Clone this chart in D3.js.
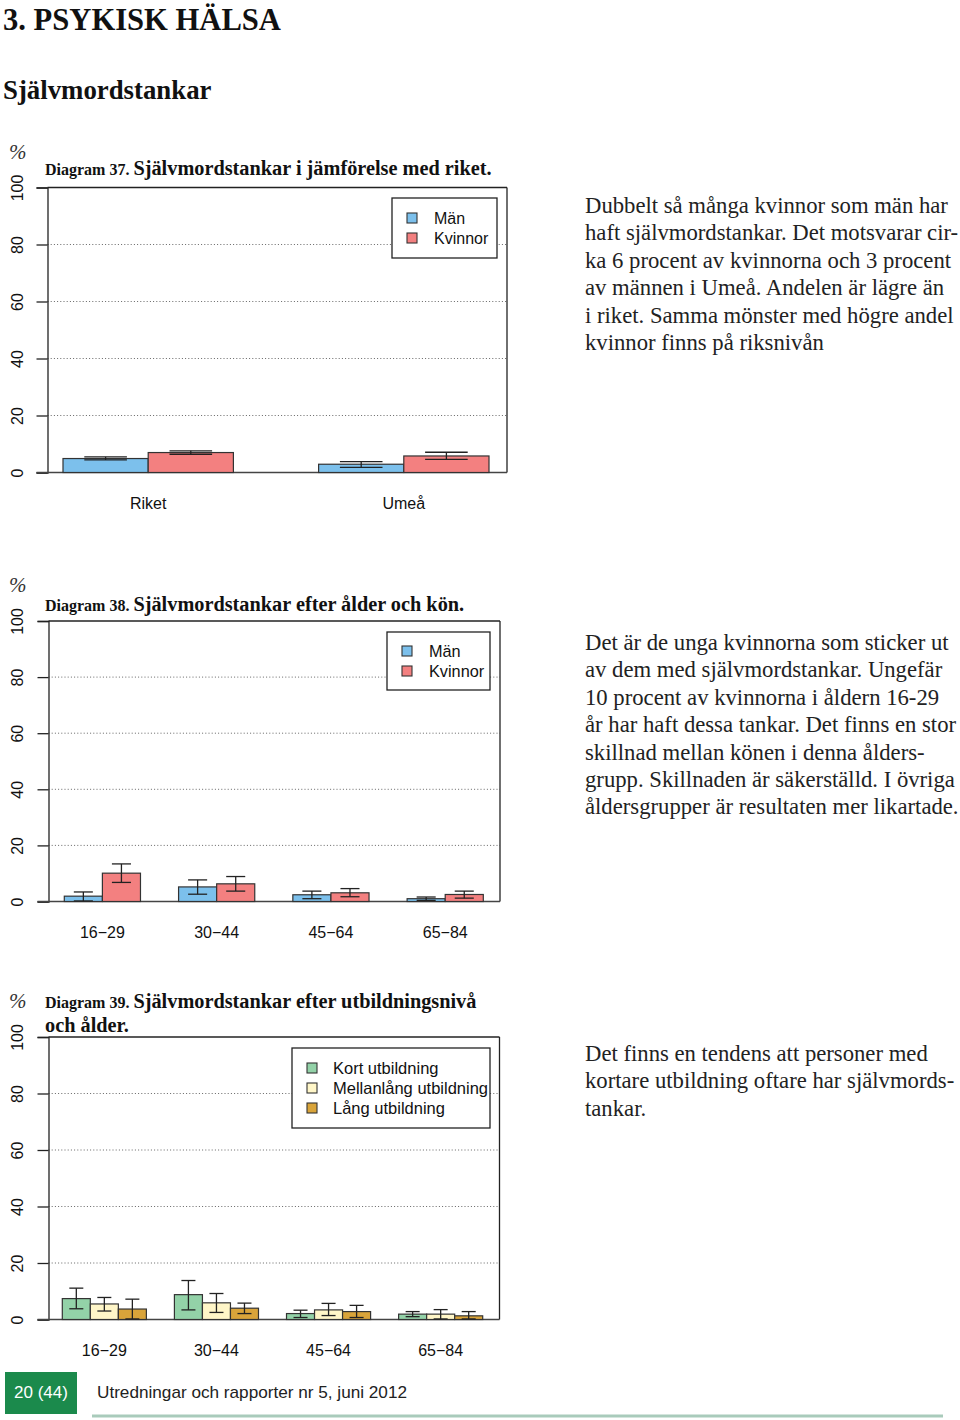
<!DOCTYPE html>
<html><head><meta charset="utf-8">
<script src="https://cdn.jsdelivr.net/npm/d3@7"></script>
<style>
html,body{margin:0;padding:0;background:#fff;}
svg{display:block;}
</style></head>
<body>
<svg id="page" width="960" height="1420"></svg>
<script>
// ---------------- DATA ----------------
const yTicks = [0, 20, 40, 60, 80, 100];

// Diagram 37
const chart1Categories = ["Riket", "Umeå"];
const chart1SeriesNames = ["Män", "Kvinnor"];
const chart1Men = [4.9, 2.9];
const chart1MenLow = [4.4, 1.8];
const chart1MenHigh = [5.5, 3.8];
const chart1Women = [7.0, 5.8];
const chart1WomenLow = [6.4, 4.6];
const chart1WomenHigh = [7.6, 7.1];

// Diagram 38
const chart2Categories = ["16−29", "30−44", "45−64", "65−84"];
const chart2SeriesNames = ["Män", "Kvinnor"];
const chart2Men = [1.9, 5.2, 2.4, 1.0];
const chart2MenLow = [0.2, 2.6, 1.0, 0.4];
const chart2MenHigh = [3.4, 7.7, 3.7, 1.6];
const chart2Women = [10.1, 6.3, 3.1, 2.5];
const chart2WomenLow = [6.8, 3.7, 1.7, 1.2];
const chart2WomenHigh = [13.4, 8.9, 4.6, 3.7];

// Diagram 39
const chart3Categories = ["16−29", "30−44", "45−64", "65−84"];
const chart3SeriesNames = ["Kort utbildning", "Mellanlång utbildning", "Lång utbildning"];
const chart3Kort = [7.4, 8.8, 2.1, 1.9];
const chart3KortLow = [3.8, 3.4, 0.7, 1.0];
const chart3KortHigh = [11.1, 13.8, 3.3, 2.8];
const chart3Mellan = [5.5, 5.9, 3.4, 1.9];
const chart3MellanLow = [3.0, 2.5, 1.4, 0.2];
const chart3MellanHigh = [7.8, 9.2, 5.7, 3.5];
const chart3Lang = [3.7, 4.0, 2.8, 1.3];
const chart3LangLow = [0.2, 2.1, 0.7, 0.2];
const chart3LangHigh = [7.2, 5.8, 5.0, 2.8];

// Texts
const pageHeader = "3. PSYKISK HÄLSA";
const sectionHeader = "Självmordstankar";
const para1 = ["Dubbelt så många kvinnor som män har",
  "haft självmordstankar. Det motsvarar cir-",
  "ka 6 procent av kvinnorna och 3 procent",
  "av männen i Umeå. Andelen är lägre än",
  "i riket. Samma mönster med högre andel",
  "kvinnor finns på riksnivån"];
const para2 = ["Det är de unga kvinnorna som sticker ut",
  "av dem med självmordstankar. Ungefär",
  "10 procent av kvinnorna i åldern 16-29",
  "år har haft dessa tankar. Det finns en stor",
  "skillnad mellan könen i denna ålders-",
  "grupp. Skillnaden är säkerställd. I övriga",
  "åldersgrupper är resultaten mer likartade."];
const para3 = ["Det finns en tendens att personer med",
  "kortare utbildning oftare har självmords-",
  "tankar."];
const footerPage = "20 (44)";
const footerText = "Utredningar och rapporter nr 5, juni 2012";

// ---------------- STYLE ----------------
const SERIF = "'Liberation Serif','Times New Roman',serif";
const SANS = "'Liberation Sans',Arial,Helvetica,sans-serif";
const colMen = "#7cc0ec", colWomen = "#f38080";
const colKort = "#93d2a8", colMellan = "#fff6c8", colLang = "#d9a43a";

const svg = d3.select("#page");

svg.append("text").attr("x", 3).attr("y", 30)
  .style("font-family", SERIF).style("font-weight", "bold").style("font-size", "30.6px")
  .attr("fill", "#111").text(pageHeader);
svg.append("text").attr("x", 3).attr("y", 99)
  .style("font-family", SERIF).style("font-weight", "bold").style("font-size", "26.8px")
  .attr("fill", "#111").text(sectionHeader);

function drawChart(cfg) {
  const g = svg.append("g");
  const y = d3.scaleLinear().domain([0, 100]).range([cfg.bottom, cfg.top]);
  const nS = cfg.series.length;
  const x0 = d3.scaleBand().domain(cfg.categories)
    .range([cfg.barStart, cfg.barEnd]).paddingInner(1 / (nS + 1)).paddingOuter(0);
  const x1 = d3.scaleBand().domain(d3.range(nS)).range([0, x0.bandwidth()]).padding(0);

  // gridlines
  g.selectAll("line.grid").data(yTicks.filter(t => t > 0 && t < 100)).join("line")
    .attr("x1", cfg.left).attr("x2", cfg.right)
    .attr("y1", d => y(d)).attr("y2", d => y(d))
    .attr("stroke", "#666").attr("stroke-width", 1).attr("stroke-dasharray", "1,2.2");

  // box lines: top, right
  g.append("line").attr("x1", cfg.left).attr("x2", cfg.right).attr("y1", y(100)).attr("y2", y(100))
    .attr("stroke", "#222").attr("stroke-width", 1.3);
  g.append("line").attr("x1", cfg.right).attr("x2", cfg.right).attr("y1", y(100)).attr("y2", y(0))
    .attr("stroke", "#222").attr("stroke-width", 1.3);

  // y axis
  const axis = d3.axisLeft(y).tickValues(yTicks).tickSize(11).tickPadding(0).tickFormat(d3.format("d"));
  const ax = g.append("g").attr("transform", `translate(${cfg.left},0)`).call(axis);
  ax.select(".domain").attr("stroke", "#222").attr("stroke-width", 1.3);
  ax.selectAll(".tick line").attr("stroke", "#222").attr("stroke-width", 1.3);
  ax.selectAll(".tick text").remove();
  ax.selectAll(".tick").append("text")
    .attr("transform", `translate(${17 - cfg.left},0) rotate(-90)`)
    .attr("text-anchor", "middle").attr("dy", "0.36em")
    .attr("fill", "#111").style("font-family", SANS).style("font-size", "16px")
    .text(d => d);

  // baseline
  g.append("line").attr("x1", cfg.left - 11).attr("x2", cfg.right).attr("y1", y(0)).attr("y2", y(0))
    .attr("stroke", "#444").attr("stroke-width", 1.6);

  // bars
  const rows = [];
  cfg.categories.forEach((c, i) => {
    cfg.series.forEach((s, j) => {
      rows.push({ c, j, v: s.values[i], lo: s.low[i], hi: s.high[i], color: s.color });
    });
  });
  const bw = x1.bandwidth();
  g.selectAll("rect.bar").data(rows).join("rect")
    .attr("x", d => x0(d.c) + x1(d.j)).attr("width", bw)
    .attr("y", d => y(d.v)).attr("height", d => y(0) - y(d.v))
    .attr("fill", d => d.color).attr("stroke", "#333").attr("stroke-width", 1.2);

  // error bars
  const eb = g.selectAll("g.eb").data(rows).join("g");
  const cx = d => x0(d.c) + x1(d.j) + bw / 2;
  eb.append("line").attr("x1", cx).attr("x2", cx).attr("y1", d => y(d.lo)).attr("y2", d => y(d.hi))
    .attr("stroke", "#222").attr("stroke-width", 1.3);
  eb.append("line").attr("x1", d => cx(d) - bw / 4).attr("x2", d => cx(d) + bw / 4)
    .attr("y1", d => y(d.hi)).attr("y2", d => y(d.hi)).attr("stroke", "#222").attr("stroke-width", 1.3);
  eb.append("line").attr("x1", d => cx(d) - bw / 4).attr("x2", d => cx(d) + bw / 4)
    .attr("y1", d => y(d.lo)).attr("y2", d => y(d.lo)).attr("stroke", "#222").attr("stroke-width", 1.3);

  // x labels
  g.selectAll("text.xl").data(cfg.categories).join("text")
    .attr("x", d => x0(d) + x0.bandwidth() / 2).attr("y", cfg.xLabelY)
    .attr("text-anchor", "middle").attr("fill", "#111")
    .style("font-family", SANS).style("font-size", "16px").text(d => d);

  // percent sign
  g.append("text").attr("x", 9).attr("y", cfg.top - 29)
    .style("font-family", SERIF).style("font-style", "italic").style("font-size", "21px")
    .attr("fill", "#333").text("%");

  // title
  cfg.titleLines.forEach((line, i) => {
    const t = g.append("text").attr("x", 45).attr("y", cfg.titleY + i * 24)
      .style("font-family", SERIF).style("font-weight", "bold").attr("fill", "#111");
    if (line.prefix) t.append("tspan").style("font-size", "16px").text(line.prefix);
    t.append("tspan").style("font-size", "20.3px").text(line.text);
  });

  // legend
  const L = cfg.legend;
  g.append("rect").attr("x", L.x).attr("y", L.y).attr("width", L.w).attr("height", L.h)
    .attr("fill", "#fff").attr("stroke", "#222").attr("stroke-width", 1.3);
  cfg.series.forEach((s, j) => {
    const cy = L.firstY + j * 20;
    g.append("rect").attr("x", L.sqX).attr("y", cy - 5).attr("width", 10).attr("height", 10)
      .attr("fill", s.color).attr("stroke", "#333").attr("stroke-width", 1.1);
    g.append("text").attr("x", L.textX).attr("y", cy).attr("dy", "0.36em")
      .style("font-family", SANS).style("font-size", L.fs + "px").attr("fill", "#111").text(s.name);
  });

  // paragraph
  const p = g.append("text").style("font-family", SERIF).style("font-size", "22.7px").attr("fill", "#222");
  cfg.para.forEach((line, i) => {
    p.append("tspan").attr("x", 585).attr("y", cfg.paraY + i * 27.4).text(line);
  });
}

drawChart({
  categories: chart1Categories,
  series: [
    { name: chart1SeriesNames[0], values: chart1Men, low: chart1MenLow, high: chart1MenHigh, color: colMen },
    { name: chart1SeriesNames[1], values: chart1Women, low: chart1WomenLow, high: chart1WomenHigh, color: colWomen }
  ],
  top: 187.5, bottom: 472.5, left: 47.5, right: 507, barStart: 63, barEnd: 489,
  xLabelY: 509, titleY: 175,
  titleLines: [{ prefix: "Diagram 37. ", text: "Självmordstankar i jämförelse med riket." }],
  legend: { x: 392, y: 198, w: 105, h: 60, sqX: 407, textX: 434, firstY: 218, fs: 16 },
  para: para1, paraY: 213
});

drawChart({
  categories: chart2Categories,
  series: [
    { name: chart2SeriesNames[0], values: chart2Men, low: chart2MenLow, high: chart2MenHigh, color: colMen },
    { name: chart2SeriesNames[1], values: chart2Women, low: chart2WomenLow, high: chart2WomenHigh, color: colWomen }
  ],
  top: 621, bottom: 901.5, left: 48.5, right: 500, barStart: 64.3, barEnd: 483.3,
  xLabelY: 938, titleY: 611,
  titleLines: [{ prefix: "Diagram 38. ", text: "Självmordstankar efter ålder och kön." }],
  legend: { x: 387, y: 632, w: 103, h: 58, sqX: 402, textX: 429, firstY: 651, fs: 16.3 },
  para: para2, paraY: 650
});

drawChart({
  categories: chart3Categories,
  series: [
    { name: chart3SeriesNames[0], values: chart3Kort, low: chart3KortLow, high: chart3KortHigh, color: colKort },
    { name: chart3SeriesNames[1], values: chart3Mellan, low: chart3MellanLow, high: chart3MellanHigh, color: colMellan },
    { name: chart3SeriesNames[2], values: chart3Lang, low: chart3LangLow, high: chart3LangHigh, color: colLang }
  ],
  top: 1037, bottom: 1319.5, left: 48.5, right: 499.5, barStart: 62.3, barEnd: 482.7,
  xLabelY: 1356, titleY: 1008,
  titleLines: [{ prefix: "Diagram 39. ", text: "Självmordstankar efter utbildningsnivå" }, { prefix: null, text: "och ålder." }],
  legend: { x: 292, y: 1048, w: 198, h: 80, sqX: 307, textX: 333, firstY: 1068, fs: 16.5 },
  para: para3, paraY: 1061
});

// footer
svg.append("rect").attr("x", 5).attr("y", 1372).attr("width", 72).attr("height", 42).attr("fill", "#1b8a4c");
svg.append("text").attr("x", 41).attr("y", 1392).attr("dy", "0.36em").attr("text-anchor", "middle")
  .style("font-family", SANS).style("font-size", "17px").attr("fill", "#fff").text(footerPage);
svg.append("text").attr("x", 97).attr("y", 1392).attr("dy", "0.36em")
  .attr("textLength", 310).attr("lengthAdjust", "spacingAndGlyphs")
  .style("font-family", SANS).style("font-size", "17px").attr("fill", "#222").text(footerText);
svg.append("line").attr("x1", 92).attr("x2", 943).attr("y1", 1416).attr("y2", 1416)
  .attr("stroke", "#a9cbbb").attr("stroke-width", 3);
</script>
</body></html>
